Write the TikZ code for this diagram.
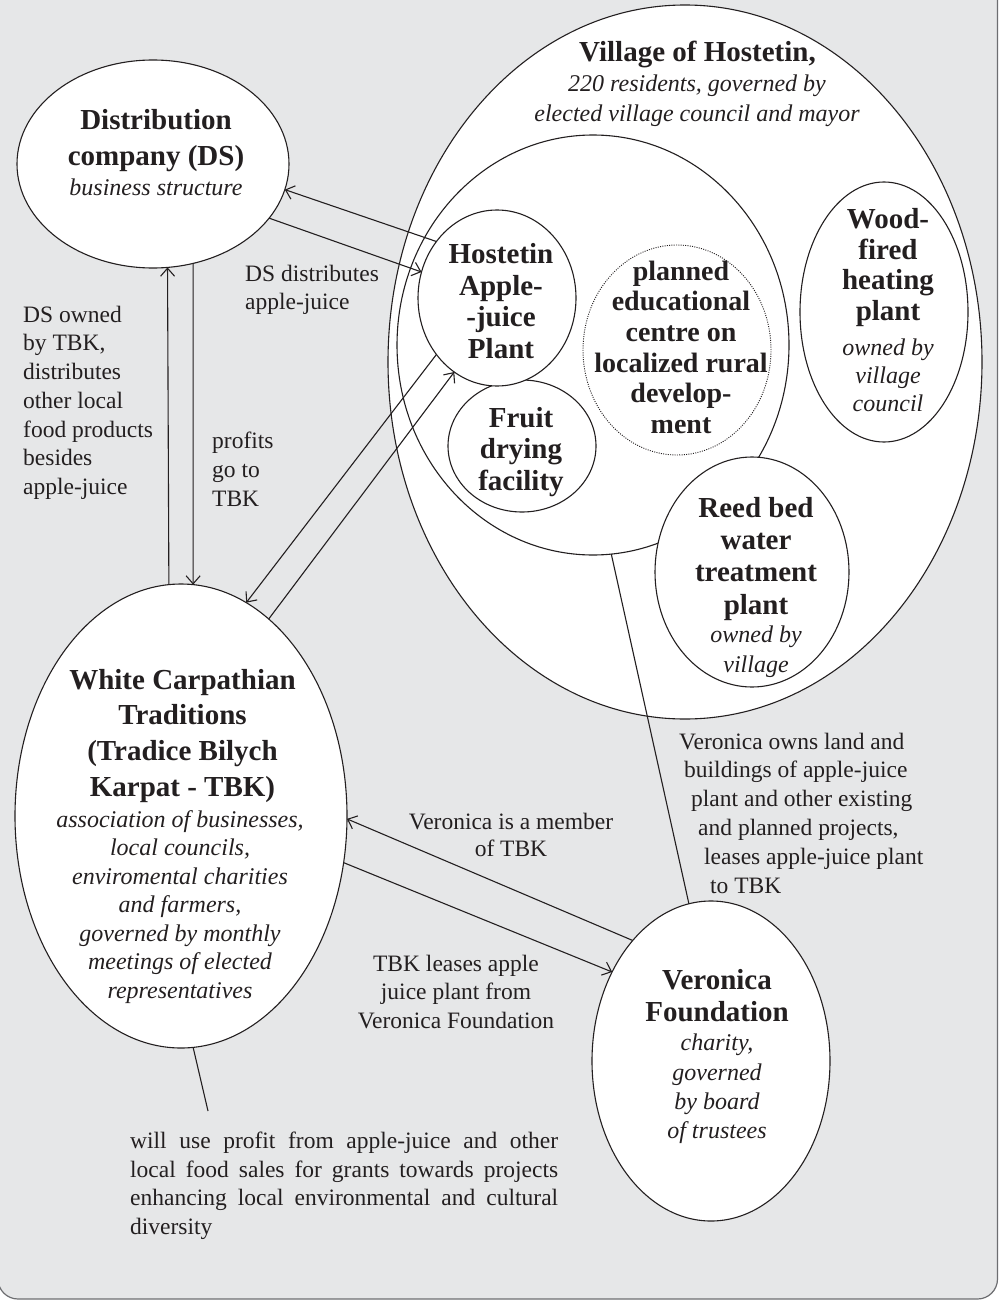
\documentclass[tikz,border=0pt]{standalone}
\usepackage{fontspec}
\setmainfont{Liberation Serif}
\usetikzlibrary{shapes.geometric,arrows.meta}
\definecolor{bg}{HTML}{E6E7E8}
\definecolor{framec}{HTML}{6D6E71}
\definecolor{ink}{HTML}{231F20}
\newcommand\bfs[1]{\fontsize{29}{#1}\selectfont\bfseries}
\newcommand\its[1]{\fontsize{24}{#1}\selectfont\itshape}
\newcommand\rms[1]{\fontsize{23.5}{#1}\selectfont}
\begin{document}
\begin{tikzpicture}[x=1pt,y=-1pt,
  ell/.style={ellipse, draw=ink, fill=white, line width=1.1pt, inner sep=0pt, outer sep=0pt},
  txt/.style={text=ink, inner sep=0pt, align=center, anchor=north},
  lbl/.style={text=ink, inner sep=0pt, align=left, anchor=north west},
  conn/.style={draw=ink, line width=1.1pt},
  arr/.style={conn, -{Straight Barb[length=8pt,width=14pt]}}]
\useasboundingbox (0,0) rectangle (1001,1303);
\fill[white] (0,0) rectangle (1001,1303);
\draw[fill=bg, draw=framec, line width=1.2pt, rounded corners=20pt] (-2,-40) rectangle (997.5,1299);

% ellipses
\node[ell, minimum width=594pt, minimum height=714pt] (village) at (685,362) {};
\node[ell, minimum width=392pt, minimum height=420pt] (group) at (593,345) {};
\node[ell, fill=none, line width=0.9pt, dash pattern=on 1pt off 1.3pt, minimum width=188pt, minimum height=210pt] (edu) at (677,350) {};
\node[ell, minimum width=148pt, minimum height=132pt] (fruit) at (522,446) {};
\node[ell, minimum width=158pt, minimum height=176pt] (juice) at (497,298) {};
\node[ell, minimum width=168pt, minimum height=260pt] (wood) at (884,312) {};
\node[ell, minimum width=194pt, minimum height=230pt] (reed) at (752,572) {};
\node[ell, minimum width=272pt, minimum height=208pt] (ds) at (153,164) {};
\node[ell, minimum width=332pt, minimum height=464pt] (tbk) at (181,816) {};
\node[ell, minimum width=238pt, minimum height=320pt] (vf) at (711,1061) {};

% connectors
\draw[arr] (juice.137.96) -- (ds.-11.7);
\draw[arr] (ds.-25.2) -- (juice.161.8);
\draw[arr] (tbk.93.47) -- (ds.-82.29);
\draw[arr] (ds.-68.08) -- (tbk.87.03);
\draw[arr] (juice.223.2) -- (tbk.73.4);
\draw[arr] (tbk.66) -- (juice.240.9);
\draw[arr] (vf.123.6) -- (tbk.-1.7);
\draw[arr] (tbk.-16) -- (vf.138.7);
\draw[conn] (group.-85.4) -- (vf.98.3);
\coordinate (note) at (208,1111);
\draw[conn] (tbk.-87.8) -- (note);

% ellipse texts
\node[txt, font=\bfs{36}] (dsT) at (156,104) {\strut Distribution\\company (DS)};
\node[txt, font=\its{28.5}] (dsS) at (156,175) {\strut business structure};
\node[txt, font=\bfs{33}] (vilT) at (697.5,38.6) {\strut Village of Hostetin,};
\node[txt, font=\its{30}] (vilS) at (697,70.5) {\strut 220 residents, governed by\\elected village council and mayor};
\node[txt, font=\bfs{31.7}] (juiceT) at (501,241.1) {\strut Hostetin\\Apple-\\-juice\\Plant};
\node[txt, font=\bfs{31.5}] (fruitT) at (521,405) {\strut Fruit\\drying\\facility};
\node[txt, font=\fontsize{28}{30.6}\selectfont\bfseries] (eduT) at (681,258.6) {\strut planned\\educational\\centre on\\localized rural\\develop-\\ment};
\node[txt, font=\bfs{30.6}] (woodT) at (888,206.9) {\strut Wood-\\fired\\heating\\plant};
\node[txt, font=\its{28.3}] (woodS) at (888,335.2) {\strut owned by\\village\\council};
\node[txt, font=\bfs{32.3}] (reedT) at (756,494.4) {\strut Reed bed\\water\\treatment\\plant};
\node[txt, font=\its{30}] (reedS) at (756,621) {\strut owned by\\village};
\node[txt, font=\bfs{35.6}] (tbkT) at (182.5,664.1) {\strut White Carpathian\\Traditions\\(Tradice Bilych\\Karpat - TBK)};
\node[txt, font=\its{28.5}] (tbkS) at (180,807) {\strut association of businesses,\\local councils,\\enviromental charities\\and farmers,\\governed by monthly\\meetings of elected\\representatives};
\node[txt, font=\bfs{31.6}] (vfT) at (717,967.6) {\strut Veronica\\Foundation};
\node[txt, font=\its{29.3}] (vfS) at (717,1030.2) {\strut charity,\\governed\\by board\\of trustees};

% labels
\node[lbl, font=\rms{28.5}] (l1) at (245,261) {\strut DS distributes\\apple-juice};
\node[lbl, font=\rms{28.7}] (l2) at (23,302) {\strut DS owned\\by TBK,\\distributes\\other local\\food products\\besides\\apple-juice};
\node[lbl, font=\rms{29}] (l3) at (212,428) {\strut profits\\go to\\TBK};
\node[txt, font=\rms{27}] (l4) at (511,810) {\strut Veronica is a member\\of TBK};
\node[txt, font=\rms{28.5}] (l5) at (456,951) {\strut TBK leases apple\\juice plant from\\Veronica Foundation};
\node[lbl, font=\rms{28.8}] (l6) at (679,728.8) {\strut Veronica owns land and\\\hspace*{5pt}buildings of apple-juice\\\hspace*{12pt}plant and other existing\\\hspace*{19pt}and planned projects,\\\hspace*{25pt}leases apple-juice plant\\\hspace*{31pt}to TBK};
\node[lbl, font=\rms{28.7}, text width=428pt, align=justify] (l7) at (130,1128) {\tolerance=10000\hbadness=10000\strut will use profit from apple-juice and other\linebreak local food sales for grants towards projects\linebreak enhancing local environmental and cultural\linebreak diversity};
\end{tikzpicture}
\end{document}
